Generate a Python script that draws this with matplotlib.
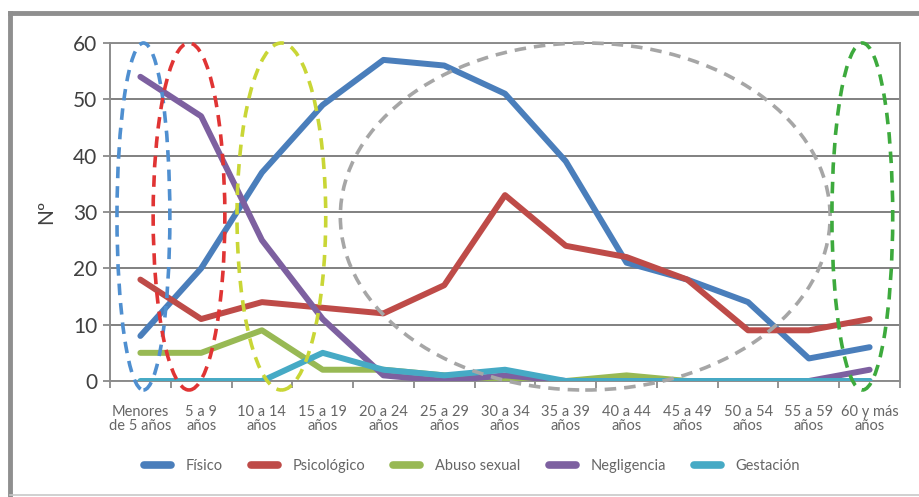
import matplotlib.pyplot as plt
from matplotlib.patches import Ellipse
from matplotlib.lines import Line2D

plt.rcParams['font.family'] = ['Lato', 'DejaVu Sans']

# age groups and cases per type of violence
categories = ["Menores\nde 5 años", "5 a 9\naños", "10 a 14\naños", "15 a 19\naños",
              "20 a 24\naños", "25 a 29\naños", "30 a 34\naños", "35 a 39\naños",
              "40 a 44\naños", "45 a 49\naños", "50 a 54\naños", "55 a 59\naños",
              "60 y más\naños"]
fisico = [8, 20, 37, 49, 57, 56, 51, 39, 21, 18, 14, 4, 6]
psicologico = [18, 11, 14, 13, 12, 17, 33, 24, 22, 18, 9, 9, 11]
abuso_sexual = [5, 5, 9, 2, 2, 1, 0, 0, 1, 0, 0, 0, 0]
negligencia = [54, 47, 25, 11, 1, 0, 1, 0, 0, 0, 0, 0, 2]
gestacion = [0, 0, 0, 5, 2, 1, 2, 0, 0, 0, 0, 0, 0]

series = [
    ("Físico", fisico, "#4A7EBB"),
    ("Psicológico", psicologico, "#BE4B48"),
    ("Abuso sexual", abuso_sexual, "#98B954"),
    ("Negligencia", negligencia, "#7D60A0"),
    ("Gestación", gestacion, "#46AAC5"),
]

# highlighted age ranges: (center index, width in categories, colour)
highlights = [
    (0.05, 0.87, "#4F8FD0"),
    (0.80, 1.18, "#E03434"),
    (2.32, 1.46, "#C9D636"),
    (7.32, 8.06, "#A6A6A6"),
    (11.88, 1.00, "#3DAA3D"),
]

fig = plt.figure(figsize=(9.2, 4.97), dpi=100)
ax = fig.add_axes([110 / 920, 1 - 381 / 497, 790 / 920, 338 / 497])

x = list(range(len(categories)))
for i, (name, vals, col) in enumerate(series):
    ax.plot(x, vals, color=col, lw=4.3, label=name, zorder=3 + i,
            solid_joinstyle="round", solid_capstyle="round")

for cx, w, col in highlights:
    ax.add_patch(Ellipse((cx, 29.2), w, 61.6, fill=False, edgecolor=col,
                         lw=2.6, ls=(0, (3.2, 2.2)), zorder=10, clip_on=False))

ax.set_xlim(-0.5, len(categories) - 0.5)
ax.set_ylim(0, 60)
ax.set_yticks(range(0, 61, 10))
ax.set_xticks(x)
ax.set_xticklabels(categories, fontsize=10.5, color="#666666", linespacing=1.0)
ax.set_xticks([i - 0.5 for i in range(len(categories) + 1)], minor=True)
ax.tick_params(axis="x", which="major", length=0, pad=17)
ax.tick_params(axis="x", which="minor", length=5, width=1.2, color="#808080")
ax.tick_params(axis="y", length=5, width=1.2, color="#808080", labelsize=15,
               labelcolor="#404040", pad=4)
ax.yaxis.grid(True, color="#808080", lw=1.4)
ax.set_axisbelow(True)
for s in ax.spines.values():
    s.set_color("#8c8c8c")
    s.set_linewidth(1.4)
ax.set_ylabel("Nº", fontsize=15, color="#404040", labelpad=12)

handles = [Line2D([], [], color=c, lw=5.5, solid_capstyle="round") for _, _, c in series]
fig.legend(handles, [n for n, _, _ in series], loc="center",
           bbox_to_anchor=(0.513, 1 - 466 / 497), ncol=5, frameon=False,
           fontsize=10.5, labelcolor="#666666", handlelength=1.85, columnspacing=1.95,
           handletextpad=1.0)

# outer frame around the chart
fig.add_artist(Line2D([10 / 920, 1], [1 - 13 / 497] * 2, color="#8f8f8f", lw=3.5))
fig.add_artist(Line2D([10 / 920] * 2, [0, 1 - 13 / 497], color="#8f8f8f", lw=3.5))
fig.add_artist(Line2D([10 / 920, 1], [2 / 497] * 2, color="#c8c8c8", lw=1.2))

fig.savefig("out.png", dpi=100)
